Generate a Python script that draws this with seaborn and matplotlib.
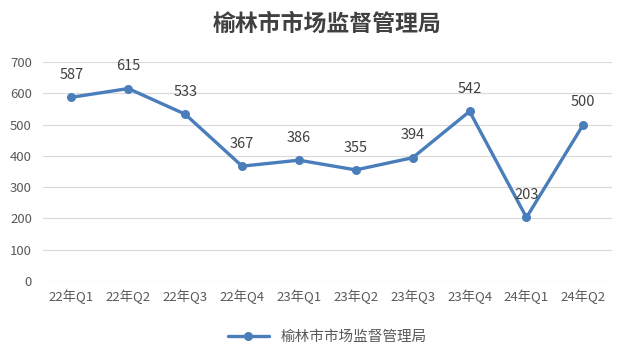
import pandas as pd
import matplotlib
matplotlib.use("Agg")
import matplotlib.pyplot as plt
import seaborn as sns

quarters = ["22年Q1", "22年Q2", "22年Q3", "22年Q4", "23年Q1",
            "23年Q2", "23年Q3", "23年Q4", "24年Q1", "24年Q2"]
counts = [587, 615, 533, 367, 386, 355, 394, 542, 203, 500]
series_name = "榆林市市场监督管理局"

df = pd.DataFrame({"quarter": quarters, "count": counts})

sns.set_style("white")
plt.rcParams['font.family'] = ['Noto Sans CJK SC', 'DejaVu Sans']

fig = plt.figure(figsize=(6.32, 3.55), dpi=100)
ax = fig.add_axes([0.068, 0.2085, 0.9, 0.617])

color = "#4a7ebb"
sns.lineplot(data=df, x="quarter", y="count", ax=ax, color=color,
             linewidth=2.4, marker="o", markersize=6.5, markeredgewidth=0,
             label=series_name, sort=False)

for i, v in enumerate(counts):
    ax.annotate(str(v), (i, v), xytext=(0, 11), textcoords="offset points",
                ha="center", va="bottom", fontsize=10.5, color="#404040")

ax.set_xlim(-0.5, len(quarters) - 0.5)
ax.set_ylim(0, 700)
ax.set_yticks(range(0, 701, 100))
ax.yaxis.grid(True, color="#d9d9d9", linewidth=0.8)
ax.set_axisbelow(True)
for s in ax.spines.values():
    s.set_visible(False)
ax.tick_params(axis="both", length=0, labelsize=9.5, labelcolor="#595959")
ax.tick_params(axis="x", pad=6)
ax.tick_params(axis="y", pad=8)
ax.set_xlabel("")
ax.set_ylabel("")

ax.set_title(series_name, fontsize=16.5, fontweight="bold", color="#404040", pad=22)

ax.legend(loc="upper center", bbox_to_anchor=(0.5, -0.165), frameon=False,
          fontsize=10.5, labelcolor="#595959", handlelength=2.8)

fig.savefig("out.png", dpi=100)
